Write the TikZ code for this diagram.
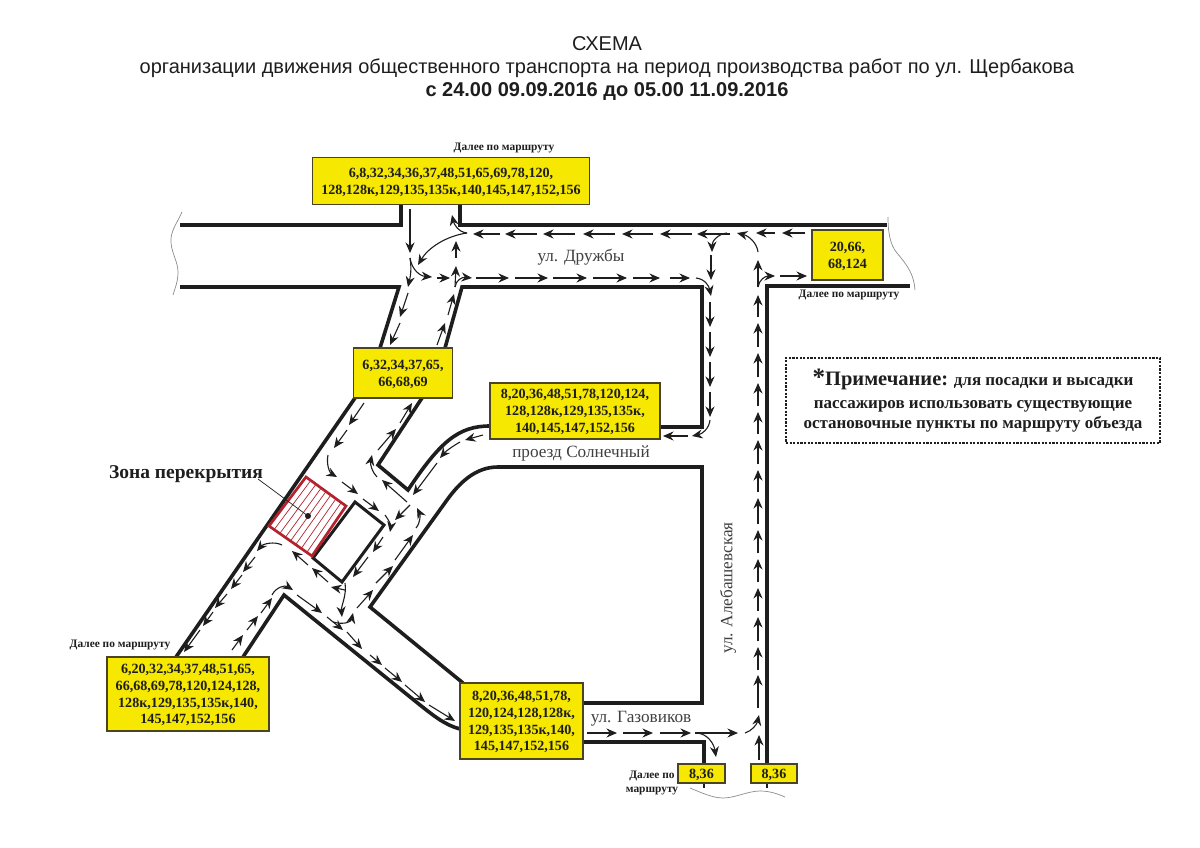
\documentclass[tikz,border=0pt]{standalone}
\usepackage{fontspec}
\setmainfont{Liberation Serif}
\newfontfamily\titlefont{Liberation Sans}
\usetikzlibrary{arrows.meta, calc}
\definecolor{box_yellow}{HTML}{F6E800}
\definecolor{box_edge}{HTML}{4A4520}
\definecolor{zone_red}{HTML}{B4232D}
\definecolor{ink}{HTML}{1E1E1E}
\begin{document}
\begin{tikzpicture}
    [
        x=1pt, y=-1pt,
        road_edge/.style={draw=ink, line width=3.6pt, line join=miter},
        route/.style={draw=ink, line width=1.1pt, -{Stealth[length=10.5pt, width=9pt]}},
        wavy_edge/.style={draw=black!45, line width=0.7pt},
        bus_box/.style={rectangle, draw=box_edge, line width=1.1pt, fill=box_yellow, align=center, inner sep=0pt, text depth=0pt, text=ink, font=\fontsize{14.1}{16.8}\selectfont\bfseries},
        go_on/.style={text=ink, align=center, font=\fontsize{11.4}{14}\selectfont\bfseries},
        street/.style={text=ink!85, font=\fontsize{17.2}{19}\selectfont},
        title_line/.style={text=ink, font=\titlefont\fontsize{20}{24}\selectfont},
    ]
        \useasboundingbox (0,0) rectangle (1200,848);
        \fill[white] (0,0) rectangle (1200,848);

        \node[title_line] (title_a) at (607,44) {СХЕМА};
        \node[title_line] (title_b) at (607,68) {организации движения общественного транспорта на период производства работ по ул. Щербакова};
        \node[title_line, font=\titlefont\fontsize{20}{24}\selectfont\bfseries] (title_c) at (607,92) {с 24.00 09.09.2016 до 05.00 11.09.2016};

        \draw[road_edge] (180,225) -- (401,225) -- (401,204);
        \draw[road_edge] (460,204) -- (460,225) -- (887,225);
        \draw[road_edge] (180,287) -- (399,287) -- (380,348) -- (355,398) -- (176,657);
        \draw[road_edge] (660,427) -- (702,427) -- (702,287) -- (462,287) -- (445,348) -- (422,398) -- (378,465) -- (408,490) .. controls (440,442) and (458,426) .. (490,426);
        \draw[road_edge] (583,703) -- (702,703) -- (702,467) -- (498,467) .. controls (476,467) and (460,482) .. (447,500) -- (370,607) -- (463,683);
        \draw[road_edge] (243,657) -- (284,595) -- (420,705) .. controls (434,716) and (445,725) .. (460,729);
        \draw[road_edge] (910,286) -- (767,286) -- (767,764);
        \draw[road_edge] (583,742) -- (704,742) -- (704,764);
        \draw[road_edge, line width=2.8pt] (704,783) -- (704,788);
        \draw[road_edge, line width=2.8pt] (767,783) -- (767,788);
        \draw[road_edge, line width=3pt] (355,502) -- (384,525) -- (342,582) -- (313,558) -- cycle;

        \draw[wavy_edge] (182,212) .. controls (176,225) and (170,232) .. (171,243) .. controls (172,254) and (178,262) .. (178,272) .. controls (178,282) and (175,288) .. (173,295);
        \draw[wavy_edge] (888,217) .. controls (888,232) and (890,245) .. (897,253) .. controls (908,266) and (914,275) .. (915,290);
        \draw[wavy_edge] (690,788) .. controls (700,792) and (712,798) .. (723,798) .. controls (735,798) and (748,791) .. (760,791) .. controls (770,791) and (778,794) .. (785,797);

        \coordinate (zone_a) at (306,477);
        \coordinate (zone_b) at (346,506);
        \coordinate (zone_c) at (312,556);
        \coordinate (zone_d) at (269,526);
        \foreach \t in {0.12,0.25,0.38,0.5,0.62,0.75,0.88}
            \draw[zone_red, line width=0.7pt] ($(zone_a)!\t!(zone_b)$) -- ($(zone_d)!\t!(zone_c)$);
        \draw[zone_red, line width=2.7pt, line join=miter] (zone_a) -- (zone_b) -- (zone_c) -- (zone_d) -- cycle;

        \node[text=ink, font=\fontsize{19.5}{22}\selectfont\bfseries] (zone_label) at (186,474) {Зона перекрытия};
        \coordinate (zone_dot) at (308,516);
        \fill[ink] (zone_dot) circle (3pt);
        \draw[ink, line width=0.7pt] (258,479) -- (zone_dot);

        \foreach \ax/\ay/\bx/\by in {
            500/234/473/234, 537/234/505/234, 575/234/543/234, 615/234/583/234, 653/234/622/234, 692/234/660/234, 730/234/697/234, 775/233/756/233, 805/233/782/233,
            410/209/410/253, 437/278/450/278, 455/287/456/266, 456/258/456/241,
            476/278/509/278, 515/278/548/278, 553/278/587/278, 593/278/627/278, 633/278/660/278, 670/278/690/278,
            711/255/711/280, 710/302/710/327, 710/332/710/357, 710/362/710/387, 710/392/710/417, 688/436/663/436,
            408/293/400/317, 400/323/390/345, 364/403/349/425, 347/430/334/448,
            342/482/358/494, 363/499/379/511, 383/537/373/552, 368/557/353/577,
            357/608/373/590, 376/583/393/566, 395/560/413/535, 410/505/395/520, 407/502/382/480,
            378/450/396/429, 400/423/412/403, 437/345/445/323, 448/315/454/294,
            483/435/465/440, 437/463/413/495,
            308/565/292/551, 328/582/312/568,
            255/557/243/572, 242/575/231/589, 227/594/215/608, 213/612/203/626, 200/630/184/652,
            232/650/243/635, 247/630/258/616, 261/613/272/598,
            297/595/322/613, 327/617/343/630, 347/632/362/649, 370/655/382/665, 385/668/402/682, 405/685/425/702, 429/705/455/721,
            587/733/617/733, 623/733/653/733, 660/733/691/733, 695/733/738/733,
            759/760/759/735, 758/708/758/675,
            780/276/807/276, 758/287/758/260}
            \draw[route] (\ax,\ay) -- (\bx,\by);
        \foreach \ay/\by in {
            670/647, 641/617, 611/588, 582/559, 553/530, 524/498, 492/470, 464/440, 434/412, 406/383, 377/353, 347/323, 317/295}
            \draw[route] (758,\ay) -- (758,\by);

        \draw[route] (467,233) .. controls (458,232) and (454,224) .. (452,215);
        \draw[route] (467,233) .. controls (446,236) and (428,248) .. (418,265);
        \draw[route] (410,258) .. controls (412,270) and (410,278) .. (408,287);
        \draw[route] (410,258) .. controls (412,270) and (420,276) .. (432,277);
        \draw[route] (455,287) .. controls (456,280) and (462,277) .. (472,278);
        \draw[route] (696,278) .. controls (705,279) and (709,286) .. (711,296);
        \draw[route] (727,233) .. controls (718,234) and (712,241) .. (712,252);
        \draw[route] (758,252) .. controls (757,243) and (749,236) .. (737,233);
        \draw[route] (710,420) .. controls (709,429) and (702,434) .. (692,436);
        \draw[route] (758,287) .. controls (759,280) and (765,276) .. (775,276);
        \draw[route] (328,455) .. controls (326,465) and (330,473) .. (337,477);
        \draw[route] (385,515) .. controls (389,520) and (391,526) .. (390,532);
        \draw[route] (345,583) .. controls (347,595) and (341,606) .. (342,617);
        \draw[route] (333,622) .. controls (344,625) and (351,622) .. (353,613);
        \draw[route] (345,590) -- (331,587);
        \draw[route] (416,528) .. controls (421,522) and (420,514) .. (417,508);
        \draw[route] (377,477) .. controls (372,472) and (370,464) .. (372,455);
        \draw[route] (460,442) .. controls (453,446) and (446,451) .. (440,458);
        \draw[route] (282,545) .. controls (274,541) and (263,544) .. (257,551);
        \draw[route] (272,595) .. controls (276,587) and (285,585) .. (293,590);
        \draw[route] (697,733) .. controls (708,734) and (714,744) .. (716,757);
        \draw[route] (745,733) .. controls (752,731) and (757,724) .. (759,715);

        \node[bus_box, minimum width=277pt, minimum height=47pt] (box_top) at (451,181) {6,8,32,34,36,37,48,51,65,69,78,120,\\128,128к,129,135,135к,140,145,147,152,156};
        \node[bus_box, minimum width=99pt, minimum height=50pt] (box_mid) at (403,373) {6,32,34,37,65,\\66,68,69};
        \node[bus_box, minimum width=170pt, minimum height=56pt] (box_sun) at (575,411) {8,20,36,48,51,78,120,124,\\128,128к,129,135,135к,\\140,145,147,152,156};
        \node[bus_box, minimum width=71pt, minimum height=50pt] (box_east) at (847.5,255) {20,66,\\68,124};
        \node[bus_box, minimum width=162pt, minimum height=74pt] (box_west) at (188,694) {6,20,32,34,37,48,51,65,\\66,68,69,78,120,124,128,\\128к,129,135,135к,140,\\145,147,152,156};
        \node[bus_box, minimum width=123pt, minimum height=76pt] (box_gaz) at (521.5,721) {8,20,36,48,51,78,\\120,124,128,128к,\\129,135,135к,140,\\145,147,152,156};
        \node[bus_box, minimum width=47pt, minimum height=19pt] (box_south_a) at (701.5,773.5) {8,36};
        \node[bus_box, minimum width=46pt, minimum height=19pt] (box_south_b) at (774,773.5) {8,36};

        \node[go_on] (go_on_top) at (504,148) {Далее по маршруту};
        \node[go_on] (go_on_east) at (849,295) {Далее по маршруту};
        \node[go_on] (go_on_west) at (120,645) {Далее по маршруту};
        \node[go_on] (go_on_south) at (652,783) {Далее по\\маршруту};

        \node[street] (druzhby) at (581,257) {ул. Дружбы};
        \node[street] (solnechny) at (581,453) {проезд Солнечный};
        \node[street] (gazovikov) at (641,719) {ул. Газовиков};
        \node[street, rotate=90] (alebash) at (728,588) {ул. Алебашевская};

        \node[draw=ink, line width=1.5pt, dash pattern=on 2.2pt off 1.4pt, minimum width=374pt, minimum height=85pt, inner sep=0pt, align=center, text=ink, font=\fontsize{17}{21}\selectfont\bfseries] (note_box) at (973,400.5)
            {{\fontsize{20.5}{21}\selectfont{\fontsize{25}{21}\selectfont *}Примечание:} для посадки и высадки\\[2pt]пассажиров использовать существующие\\[-1pt]остановочные пункты по маршруту объезда};
    \end{tikzpicture}
\end{document}
